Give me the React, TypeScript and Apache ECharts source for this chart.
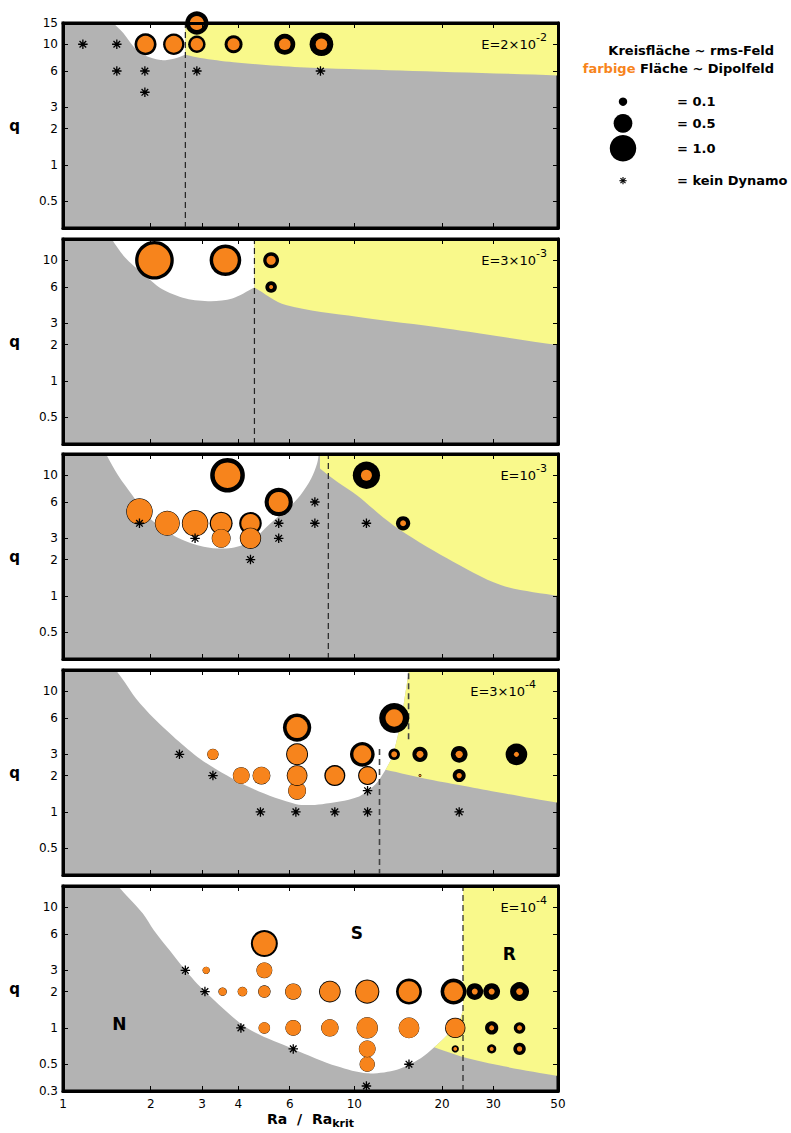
import React, { useEffect, useRef } from 'react';
import * as echarts from 'echarts';

const FONT = '"DejaVu Sans", Verdana, sans-serif';
const ORANGE = '#f7841c';
const YELLOW = '#f9f98b';
const GREY = '#b3b3b3';

const RA_MIN = 1;
const RA_MAX = 50;
const Q_MIN = 0.3;
const Q_MAX = 15;

const raTickValues = [2, 3, 4, 6, 10, 20, 30];
const raLabelValues = [1, 2, 3, 4, 6, 10, 20, 30, 50];
const qTickValues = [0.5, 1, 2, 3, 6, 10];
const qLabels1 = [0.5, 1, 2, 3, 6, 10, 15];
const qLabelsMid = [0.5, 1, 2, 3, 6, 10];
const qLabels5 = [0.3, 0.5, 1, 2, 3, 6, 10];

const eBase = ['E=2×10', 'E=3×10', 'E=10', 'E=3×10', 'E=10'];
const eExp = ['-2', '-3', '-3', '-4', '-4'];

// circles: [Ra/Ra_krit, q, rms field, dipole field]
const circles1 = [
  [1.92, 10, 0.69, 0.4], [2.4, 10, 0.65, 0.4], [2.88, 10, 0.43, 0.22], [2.88, 15, 0.77, 0.28],
  [3.85, 10, 0.46, 0.205], [5.77, 10, 0.63, 0.19], [7.71, 10, 0.8, 0.19],
];
const circles2 = [
  [2.06, 10, 2.13, 1.46], [3.61, 10, 1.43, 0.87], [5.18, 10, 0.36, 0.12], [5.18, 6, 0.19, 0.023],
];
const circles3 = [
  [3.67, 10, 1.71, 0.94], [5.5, 6, 1.14, 0.57], [1.83, 5, 1.0, 0.92], [2.28, 4, 0.89, 0.82],
  [2.84, 4, 1.0, 0.9], [3.49, 4, 0.75, 0.6], [3.49, 3, 0.51, 0.47], [4.4, 4, 0.73, 0.48],
  [4.4, 3, 0.65, 0.57], [11.0, 10, 1.06, 0.17], [14.7, 4, 0.29, 0.05],
];
const circles4 = [
  [3.27, 3, 0.18, 0.17], [4.09, 2, 0.4, 0.38], [4.8, 2, 0.45, 0.42], [6.36, 1.5, 0.46, 0.43],
  [6.36, 2, 0.61, 0.53], [6.36, 3, 0.69, 0.57], [6.36, 5, 1.14, 0.63], [8.57, 2, 0.63, 0.48],
  [10.65, 3, 0.87, 0.46], [11.1, 2, 0.51, 0.4], [13.7, 6, 1.28, 0.43], [13.7, 3, 0.19, 0.05],
  [16.8, 3, 0.33, 0.07], [16.8, 2, 0.012, 0.006], [22.9, 3, 0.4, 0.076], [22.9, 2, 0.24, 0.04],
  [36.0, 3, 0.67, 0.036],
];
const circles5 = [
  [4.91, 5, 1.04, 0.75], [4.91, 3, 0.36, 0.34], [3.1, 3, 0.076, 0.07],
  [3.53, 2, 0.1, 0.09], [4.13, 2, 0.13, 0.12], [4.91, 2, 0.22, 0.2], [6.17, 2, 0.38, 0.35],
  [8.24, 2, 0.67, 0.57], [11.07, 2, 0.84, 0.71], [15.4, 2, 0.96, 0.61], [21.9, 2, 0.96, 0.5],
  [25.9, 2, 0.4, 0.05], [29.6, 2, 0.4, 0.05], [36.9, 2, 0.51, 0.064],
  [4.91, 1, 0.19, 0.18], [6.17, 1, 0.35, 0.33], [8.24, 1, 0.43, 0.41], [11.07, 1, 0.65, 0.62],
  [15.4, 1, 0.61, 0.58], [22.2, 1, 0.59, 0.51], [29.6, 1, 0.25, 0.036], [36.9, 1, 0.19, 0.036],
  [11.07, 0.5, 0.33, 0.31], [11.07, 0.67, 0.4, 0.38], [22.2, 0.67, 0.076, 0.02],
  [29.6, 0.67, 0.12, 0.023], [36.9, 0.67, 0.22, 0.04],
];

// no dynamo: [Ra/Ra_krit, q]
const stars1 = [[1.17, 10], [1.53, 10], [1.53, 6], [1.91, 6], [1.91, 4], [2.88, 6], [7.65, 6]];
const stars2: number[][] = [];
const stars3 = [[1.83, 4], [2.84, 3], [4.4, 2], [5.5, 4], [5.5, 3], [7.32, 6], [7.32, 4], [11.0, 4]];
const stars4 = [[2.51, 3], [3.27, 2], [4.76, 1], [6.3, 1], [8.57, 1], [11.1, 1], [11.1, 1.5], [22.9, 1]];
const stars5 = [[2.63, 3], [3.07, 2], [4.08, 1], [6.17, 0.67], [15.4, 0.5], [11.0, 0.33]];

// region boundaries: [Ra/Ra_krit, q, corner?]
const white1 = [[1.44, 17, 1], [1.49, 15], [1.61, 12.4], [1.745, 9.6], [1.89, 8.2], [2.16, 7.4], [2.4, 7.6], [2.63, 8.2, 1], [2.63, 17, 1]];
const yellow1 = [[2.63, 17, 1], [2.63, 8.2, 1], [2.96, 7.7], [3.85, 7.1], [6.5, 6.46], [14.4, 6.07], [50, 5.52], [56, 5.46, 1], [56, 17, 1]];
const white2 = [[1.44, 17, 1], [1.47, 15], [1.63, 10.6], [1.88, 7.76], [2.17, 5.84], [2.64, 4.82], [3.22, 4.58], [3.81, 4.82], [4.54, 5.95, 1], [4.54, 17, 1]];
const yellow2 = [[4.54, 17, 1], [4.54, 5.95, 1], [5.82, 4.25], [10.2, 3.4], [20.7, 2.72], [50, 1.98], [56, 1.95, 1], [56, 17, 1]];
const white3 = [[1.37, 17, 1], [1.405, 15], [1.545, 10], [1.73, 6.84], [1.99, 4.39], [2.5, 3.0], [3.04, 2.56], [3.71, 2.48], [4.39, 2.81], [5.07, 3.86], [5.82, 5.14], [6.53, 6.84], [7.11, 9.39], [7.45, 12.5], [7.55, 15], [7.58, 17, 1]];
const yellow3 = [[7.62, 17, 1], [7.62, 11.4, 1], [8.8, 8.7], [10.2, 6.84], [13.6, 3.86], [20.8, 2.05], [31.8, 1.23], [50, 1.0], [56, 0.97, 1], [56, 17, 1]];
const white4 = [[1.49, 17, 1], [1.52, 15], [1.63, 11.9], [1.78, 8.7], [2.05, 5.97], [2.5, 3.83], [3.04, 2.62], [4.39, 1.59], [6.32, 1.16], [7.75, 1.16], [10.2, 1.32], [11.8, 1.69], [12.8, 2.24, 1], [13.5, 2.88], [14.4, 5.4], [14.9, 9], [15.4, 15], [15.5, 17, 1]];
const yellow4 = [[15.5, 17, 1], [15.4, 15], [14.9, 9], [14.4, 5.4], [13.5, 2.88], [12.8, 2.24, 1], [18.1, 1.86], [23.9, 1.64], [31.8, 1.44], [50, 1.19], [56, 1.17, 1], [56, 17, 1]];
const white5 = [[1.5, 17, 1], [1.545, 15], [1.88, 8.87], [2.05, 6.45], [2.33, 4.35], [2.63, 3.0], [3.07, 2.0], [4.28, 1.0], [6.17, 0.67], [8.73, 0.48], [11.07, 0.42], [14.0, 0.45], [16.9, 0.56], [18.8, 0.69], [20.6, 0.85], [22.0, 1.0], [23.0, 1.16], [23.6, 1.41, 1], [23.6, 17, 1]];
const yellow5 = [[23.6, 17, 1], [23.6, 1.41, 1], [23.0, 1.16], [22.0, 1.0], [20.6, 0.85], [18.8, 0.69, 1], [23.6, 0.573], [32.6, 0.48], [50, 0.4], [56, 0.39, 1], [56, 17, 1]];

// dashed lines: [Ra/Ra_krit, q from, q to]
const dashed1 = [[2.63, 0.3, 15]];
const dashed2 = [[4.54, 0.3, 15]];
const dashed3 = [[8.14, 0.3, 15]];
const dashed4 = [[12.2, 0.3, 3.5], [15.35, 4.0, 15]];
const dashed5 = [[23.6, 0.3, 15]];

const regionLabels = [
  { text: 'S', ra: 10.2, q: 6.1 },
  { text: 'R', ra: 34.0, q: 4.1 },
  { text: 'N', ra: 1.56, q: 1.08 },
];

const legendValues = [0.1, 0.5, 1.0];
const legendTexts = ['= 0.1', '= 0.5', '= 1.0'];

// layout
const GRID_LEFT = 63;
const GRID_W = 495;
const GRID_H = 205;
const GRID_TOPS = [23, 239, 454, 670, 886];
const E_RIGHT = [547, 547, 547, 536, 547];
const R1 = 13.25; // px radius for field value 1.0
const STAR = 'path://M5,0L5,10M0,5L10,5M1.5,1.5L8.5,8.5M8.5,1.5L1.5,8.5';

const LOG = (v: number) => Math.log10(v);

const panels = [
  { circles: circles1, stars: stars1, white: white1, yellow: yellow1, dashed: dashed1, qLabels: qLabels1 },
  { circles: circles2, stars: stars2, white: white2, yellow: yellow2, dashed: dashed2, qLabels: qLabelsMid },
  { circles: circles3, stars: stars3, white: white3, yellow: yellow3, dashed: dashed3, qLabels: qLabelsMid },
  { circles: circles4, stars: stars4, white: white4, yellow: yellow4, dashed: dashed4, qLabels: qLabelsMid },
  { circles: circles5, stars: stars5, white: white5, yellow: yellow5, dashed: dashed5, qLabels: qLabels5 },
];

const fmt = (v: number) => {
  const n = Math.pow(10, v);
  return n < 1 ? n.toFixed(1) : String(Math.round(n));
};

function buildOption() {
  const grid: any[] = [];
  const xAxis: any[] = [];
  const yAxis: any[] = [];
  const series: any[] = [];

  const axisLine = { show: true, onZero: false, lineStyle: { color: '#000', width: 3 } };

  panels.forEach((p, i) => {
    grid.push({
      left: GRID_LEFT, top: GRID_TOPS[i], width: GRID_W, height: GRID_H,
      show: true, backgroundColor: GREY, borderColor: '#000', borderWidth: 3,
      containLabel: false, outerBoundsMode: 'none',
    });
    const isLast = i === panels.length - 1;
    xAxis.push({
      type: 'value', gridIndex: i, position: 'bottom', min: LOG(RA_MIN), max: LOG(RA_MAX), z: 10,
      splitLine: { show: false }, axisLine,
      axisTick: { show: true, inside: true, length: 5, customValues: raTickValues.map(LOG), lineStyle: { color: '#000', width: 1 } },
      axisLabel: { show: isLast, customValues: raLabelValues.map(LOG), formatter: fmt, fontSize: 12, color: '#000', fontFamily: FONT, margin: 7 },
      name: isLast ? '{b|Ra  /  Ra}{s|krit}' : '',
      nameLocation: 'middle', nameGap: 17,
      nameTextStyle: {
        fontFamily: FONT, color: '#000',
        rich: {
          b: { fontSize: 14, fontWeight: 'bold', fontFamily: FONT, color: '#000', lineHeight: 21, verticalAlign: 'middle' },
          s: { fontSize: 11, fontWeight: 'bold', fontFamily: FONT, color: '#000', lineHeight: 21, verticalAlign: 'bottom' },
        },
      },
    });
    xAxis.push({
      type: 'value', gridIndex: i, position: 'top', min: LOG(RA_MIN), max: LOG(RA_MAX), z: 10,
      splitLine: { show: false }, axisLine,
      axisTick: { show: true, inside: true, length: 5, customValues: raTickValues.map(LOG), lineStyle: { color: '#000', width: 1 } },
      axisLabel: { show: false },
    });
    yAxis.push({
      type: 'value', gridIndex: i, position: 'left', min: LOG(Q_MIN), max: LOG(Q_MAX), z: 10,
      splitLine: { show: false }, axisLine,
      axisTick: { show: true, inside: true, length: 5, customValues: qTickValues.map(LOG), lineStyle: { color: '#000', width: 1 } },
      axisLabel: { show: true, customValues: p.qLabels.map(LOG), formatter: fmt, fontSize: 12, color: '#000', fontFamily: FONT, margin: 5 },
      name: 'q', nameLocation: 'middle', nameRotate: 0, nameGap: 43,
      nameTextStyle: { fontSize: 15, fontWeight: 'bold', fontFamily: FONT, color: '#000' },
    });
    yAxis.push({
      type: 'value', gridIndex: i, position: 'right', min: LOG(Q_MIN), max: LOG(Q_MAX), z: 10,
      splitLine: { show: false }, axisLine,
      axisTick: { show: true, inside: true, length: 5, customValues: qTickValues.map(LOG), lineStyle: { color: '#000', width: 1 } },
      axisLabel: { show: false },
    });

    const white = p.white;
    const yellow = p.yellow;
    const dashed = p.dashed;
    series.push({
      type: 'custom', xAxisIndex: 2 * i, yAxisIndex: 2 * i, z: 1, clip: true, silent: true,
      data: [[0, 0]],
      renderItem: (params: any, api: any) => {
        const pts = (arr: number[][]) => {
          const out: number[][] = [];
          arr.forEach((pt) => {
            const c = api.coord([LOG(pt[0]), LOG(pt[1])]);
            out.push([c[0], c[1]]);
            if (pt[2]) out.push([c[0], c[1]]);
          });
          return out;
        };
        const children: any[] = [
          { type: 'polygon', shape: { points: pts(white), smooth: 0.3 }, style: { fill: '#fff' } },
          { type: 'polygon', shape: { points: pts(yellow), smooth: 0.3 }, style: { fill: YELLOW } },
        ];
        dashed.forEach((d) => {
          const a = api.coord([LOG(d[0]), LOG(d[1])]);
          const b = api.coord([LOG(d[0]), LOG(d[2])]);
          children.push({
            type: 'line', shape: { x1: a[0], y1: a[1], x2: b[0], y2: b[1] },
            style: { stroke: i === 3 ? '#444' : '#222', lineWidth: i === 3 ? 1.6 : 1.2, lineDash: [6, 4] },
          });
        });
        return { type: 'group', children };
      },
    });

    series.push({
      type: 'custom', xAxisIndex: 2 * i, yAxisIndex: 2 * i, z: 5, clip: false, silent: true,
      data: p.circles.map((c) => [LOG(c[0]), LOG(c[1]), c[2], c[3]]),
      encode: { x: 0, y: 1 },
      renderItem: (params: any, api: any) => {
        const c = api.coord([api.value(0), api.value(1)]);
        const R = R1 * Math.sqrt(api.value(2));
        const r = R1 * Math.sqrt(api.value(3));
        return {
          type: 'group',
          children: [
            { type: 'circle', shape: { cx: c[0], cy: c[1], r: R }, style: { fill: '#000' } },
            { type: 'circle', shape: { cx: c[0], cy: c[1], r: r }, style: { fill: ORANGE } },
          ],
        };
      },
    });

    if (p.stars.length) {
      series.push({
        type: 'scatter', xAxisIndex: 2 * i, yAxisIndex: 2 * i, z: 6, silent: true,
        symbol: STAR, symbolSize: 9.5,
        itemStyle: { color: '#000', borderColor: '#000', borderWidth: 1.3, opacity: 1 },
        data: p.stars.map((s) => [LOG(s[0]), LOG(s[1])]),
      });
    }
  });

  series.push({
    type: 'scatter', xAxisIndex: 8, yAxisIndex: 8, z: 7, silent: true,
    symbolSize: 0.1, itemStyle: { color: '#000', opacity: 1 },
    data: regionLabels.map((l) => ({ name: l.text, value: [LOG(l.ra), LOG(l.q)] })),
    label: { show: true, position: 'inside', formatter: '{b}', fontSize: 17, fontWeight: 'bold', color: '#000', opacity: 1, fontFamily: FONT },
  });

  const graphic: any[] = [];
  eBase.forEach((b, i) => {
    graphic.push({
      type: 'text', x: E_RIGHT[i], y: GRID_TOPS[i] + 21, z: 30,
      style: {
        text: `{b|${b}}{s|${eExp[i]}}`,
        align: 'right', verticalAlign: 'middle', textAlign: 'right', textVerticalAlign: 'middle',
        rich: {
          b: { fontSize: 13, fontFamily: FONT, fill: '#000', lineHeight: 24, verticalAlign: 'middle' },
          s: { fontSize: 11, fontFamily: FONT, fill: '#000', lineHeight: 24, verticalAlign: 'top' },
        },
      },
    });
  });

  graphic.push({
    type: 'text', x: 774, y: 50,
    style: { text: 'Kreisfläche ~ rms-Feld', fill: '#000', fontSize: 13, fontWeight: 'bold', fontFamily: FONT, align: 'right', verticalAlign: 'middle', textAlign: 'right', textVerticalAlign: 'middle' },
  });
  graphic.push({
    type: 'text', x: 774, y: 68,
    style: {
      text: '{o|farbige} {k|Fläche ~ Dipolfeld}', align: 'right', verticalAlign: 'middle', textAlign: 'right', textVerticalAlign: 'middle',
      fontSize: 13, fontWeight: 'bold', fontFamily: FONT,
      rich: {
        o: { fill: ORANGE, color: ORANGE, fontSize: 13, fontWeight: 'bold', fontFamily: FONT },
        k: { fill: '#000', color: '#000', fontSize: 13, fontWeight: 'bold', fontFamily: FONT },
      },
    },
  });
  const legendY = [101.7, 123.3, 148.3];
  legendValues.forEach((v, k) => {
    graphic.push({ type: 'circle', shape: { cx: 623, cy: legendY[k], r: R1 * Math.sqrt(v) }, style: { fill: '#000' } });
    graphic.push({
      type: 'text', x: 677, y: legendY[k],
      style: { text: legendTexts[k], fill: '#000', fontSize: 13, fontWeight: 'bold', fontFamily: FONT, align: 'left', verticalAlign: 'middle', textVerticalAlign: 'middle' },
    });
  });
  const sy = 180.7;
  const sr = 3.6;
  graphic.push({
    type: 'group',
    children: [
      { type: 'line', shape: { x1: 623 - sr, y1: sy, x2: 623 + sr, y2: sy }, style: { stroke: '#000', lineWidth: 1.1 } },
      { type: 'line', shape: { x1: 623, y1: sy - sr, x2: 623, y2: sy + sr }, style: { stroke: '#000', lineWidth: 1.1 } },
      { type: 'line', shape: { x1: 623 - sr * 0.7, y1: sy - sr * 0.7, x2: 623 + sr * 0.7, y2: sy + sr * 0.7 }, style: { stroke: '#000', lineWidth: 1.1 } },
      { type: 'line', shape: { x1: 623 + sr * 0.7, y1: sy - sr * 0.7, x2: 623 - sr * 0.7, y2: sy + sr * 0.7 }, style: { stroke: '#000', lineWidth: 1.1 } },
    ],
  });
  graphic.push({
    type: 'text', x: 677, y: sy,
    style: { text: '= kein Dynamo', fill: '#000', fontSize: 13, fontWeight: 'bold', fontFamily: FONT, align: 'left', verticalAlign: 'middle', textVerticalAlign: 'middle' },
  });

  return {
    animation: false,
    backgroundColor: '#fff',
    textStyle: { fontFamily: FONT },
    grid, xAxis, yAxis, series, graphic,
  };
}

export default function App() {
  const ref = useRef<HTMLDivElement>(null);
  useEffect(() => {
    if (!ref.current) return;
    const chart = echarts.init(ref.current, null, { renderer: 'svg' });
    chart.setOption(buildOption() as any);
    return () => chart.dispose();
  }, []);
  return (
    <div
      ref={ref}
      style={{ position: 'fixed', left: 0, top: 0, width: 791, height: 1133, background: '#fff' }}
    />
  );
}
